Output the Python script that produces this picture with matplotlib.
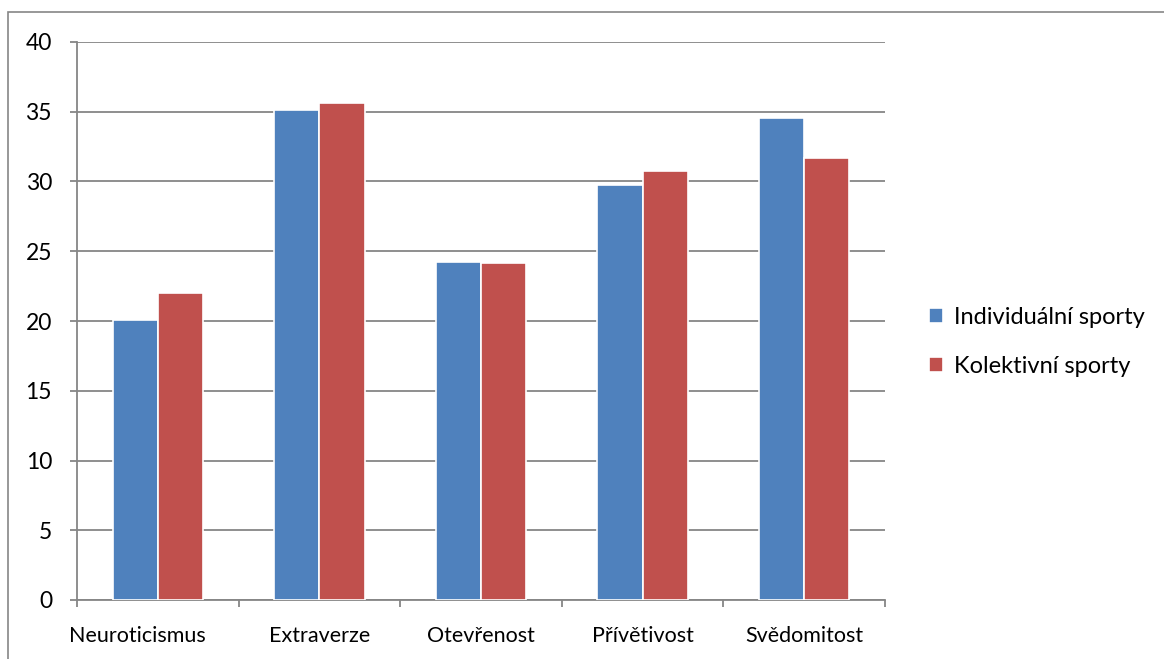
import matplotlib
matplotlib.use("Agg")
import matplotlib.pyplot as plt
import matplotlib.transforms as mtransforms
import numpy as np
from matplotlib.patches import Rectangle

categories = ["Neuroticismus", "Extraverze", "Otevřenost", "Přívětivost", "Svědomitost"]
individualni = [20.1, 35.1, 24.2, 29.75, 34.55]
kolektivni = [22.0, 35.65, 24.15, 30.75, 31.65]
series_names = ["Individuální sporty", "Kolektivní sporty"]
y_ticks = [0, 5, 10, 15, 20, 25, 30, 35, 40]

BLUE = "#4F81BD"
RED = "#C0504D"
GRID = "#868686"

plt.rcParams["font.family"] = ["Lato", "DejaVu Sans"]

W, H = 1164, 659
fig = plt.figure(figsize=(W / 100, H / 100), dpi=100)
fig.patch.set_facecolor("white")

# outer chart frame (only top/left edges fall inside the canvas)
fig.patches.append(Rectangle((8 / W, -0.1), 1.2, (H - 12) / H + 0.1,
                             transform=fig.transFigure, fill=False,
                             edgecolor=GRID, linewidth=1.2))

left, right, top, bottom = 77, 885, 42, 600
ax = fig.add_axes([left / W, 1 - bottom / H, (right - left) / W, (bottom - top) / H])

x = np.arange(len(categories))
bw = 0.28
ax.bar(x - bw / 2, individualni, bw, color=BLUE, edgecolor="white", linewidth=1.2,
       label=series_names[0], zorder=3)
ax.bar(x + bw / 2, kolektivni, bw, color=RED, edgecolor="white", linewidth=1.2,
       label=series_names[1], zorder=3)

ax.set_xlim(-0.5, len(categories) - 0.5)
ax.set_ylim(0, 40)
ax.set_yticks(y_ticks)
ax.set_yticklabels([str(v) for v in y_ticks], fontsize=16.5)
ax.yaxis.grid(True, color=GRID, linewidth=1.3, zorder=0)
ax.set_axisbelow(True)

# category labels centred; separator ticks between categories
ax.set_xticks(x)
ax.set_xticklabels(categories, fontsize=15.5)
ax.tick_params(axis="x", length=0, pad=19)
ax.set_xticks(np.arange(-0.5, len(categories)), minor=True)
ax.tick_params(axis="x", which="minor", length=5, width=1.3, color=GRID, direction="out")
ax.tick_params(axis="y", length=5, width=1.3, color=GRID, direction="out", pad=13)

# the first category label sits a little left of its slot
first = ax.get_xticklabels()[0]
first.set_transform(first.get_transform() +
                    mtransforms.ScaledTranslation(-20 / 100, 0, fig.dpi_scale_trans))

for s in ["top", "right"]:
    ax.spines[s].set_visible(False)
for s in ["left", "bottom"]:
    ax.spines[s].set_color(GRID)
    ax.spines[s].set_linewidth(1.3)

handles, labels = ax.get_legend_handles_labels()
leg = fig.legend(handles, labels, loc="center left",
                 bbox_to_anchor=(908 / W, 1 - 342 / H), frameon=False,
                 fontsize=17, handlelength=0.6, handleheight=0.6,
                 handletextpad=0.45, labelspacing=1.2)

fig.savefig("out.png", dpi=100, facecolor="white")
